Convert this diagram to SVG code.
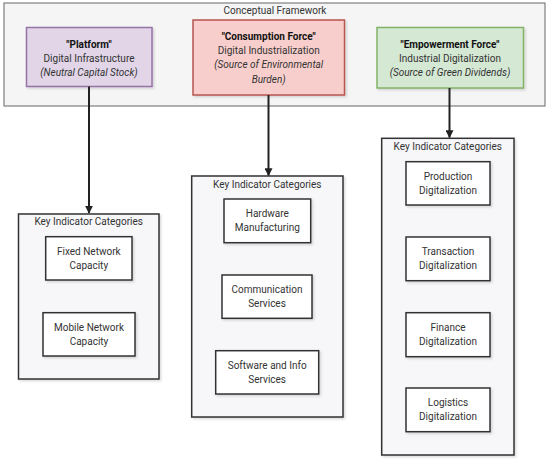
<svg xmlns="http://www.w3.org/2000/svg" width="550" height="462" viewBox="0 0 550 462">
<style>
text{font-family:Roboto,"Liberation Sans",sans-serif;font-size:10px;fill:#333;text-anchor:middle;dominant-baseline:central}
.b{font-weight:bold;fill:#111}
.i{font-style:italic}
.cont{fill:#f7f7fa;stroke:#333;stroke-width:1.5}
.item{fill:#fff;stroke:#333;stroke-width:1.5}
.conn{stroke:#222;stroke-width:2;fill:none;marker-end:url(#ah)}
</style>
<defs>
<marker id="ah" viewBox="0 0 10 10" refX="9" refY="5" markerWidth="4" markerHeight="4" orient="auto" markerUnits="strokeWidth">
<path d="M0,0 L10,5 L0,10 z" fill="#222"/>
</marker>
<filter id="sh" x="-10%" y="-10%" width="130%" height="130%">
<feDropShadow dx="1.5" dy="1.5" stdDeviation="1" flood-color="#000" flood-opacity="0.15"/>
</filter>
</defs>
<g id="frame">
<rect x="4" y="3" width="541" height="103" fill="#f5f5f5" stroke="#666" stroke-width="1"/>
<text x="275" y="10.5">Conceptual Framework</text>
</g>
<g id="platform">
<rect x="26.5" y="27.5" width="125.5" height="59" fill="#e1d5e7" stroke="#9673a6" stroke-width="1.5" filter="url(#sh)"/>
<text x="89" y="44.5" class="b">"Platform"</text>
<text x="89" y="58">Digital Infrastructure</text>
<text x="89" y="72" class="i">(Neutral Capital Stock)</text>
</g>
<g id="consumption">
<rect x="193" y="20" width="151.5" height="75" fill="#f8cecc" stroke="#b85450" stroke-width="1.5" filter="url(#sh)"/>
<text x="268.7" y="36" class="b">"Consumption Force"</text>
<text x="268.7" y="50">Digital Industrialization</text>
<text x="268.7" y="64.5" class="i">(Source of Environmental</text>
<text x="268.7" y="79" class="i">Burden)</text>
</g>
<g id="empowerment">
<rect x="377" y="27.5" width="146.5" height="60.5" fill="#d5e8d4" stroke="#82b366" stroke-width="1.5" filter="url(#sh)"/>
<text x="450" y="44" class="b">"Empowerment Force"</text>
<text x="450" y="58">Industrial Digitalization</text>
<text x="450" y="72" class="i">(Source of Green Dividends)</text>
</g>
<g id="connectors">
<path class="conn" d="M89,86.5 V213"/>
<path class="conn" d="M268.5,95 V175.5"/>
<path class="conn" d="M449.5,88 V137.5"/>
</g>
<g id="left-categories">
<rect class="cont" x="18.5" y="214" width="140.5" height="165" filter="url(#sh)"/>
<text x="88.7" y="221.5">Key Indicator Categories</text>
</g>
<g id="fixed-network">
<rect class="item" x="45.7" y="236.7" width="86.3" height="43.3" filter="url(#sh)"/>
<text x="88.8" y="251.5">Fixed Network</text>
<text x="88.8" y="265.5">Capacity</text>
</g>
<g id="mobile-network">
<rect class="item" x="43" y="312.7" width="92" height="43.3" filter="url(#sh)"/>
<text x="89" y="327.5">Mobile Network</text>
<text x="89" y="341.5">Capacity</text>
</g>
<g id="middle-categories">
<rect class="cont" x="191.7" y="176" width="151.3" height="241" filter="url(#sh)"/>
<text x="267.3" y="184">Key Indicator Categories</text>
</g>
<g id="hardware">
<rect class="item" x="224" y="199" width="86.7" height="43.7" filter="url(#sh)"/>
<text x="267.3" y="213.5">Hardware</text>
<text x="267.3" y="227.5">Manufacturing</text>
</g>
<g id="communication">
<rect class="item" x="222" y="275" width="90" height="43.3" filter="url(#sh)"/>
<text x="267" y="289.5">Communication</text>
<text x="267" y="303.5">Services</text>
</g>
<g id="software">
<rect class="item" x="215.7" y="350.7" width="103" height="43.3" filter="url(#sh)"/>
<text x="267.2" y="365">Software and Info</text>
<text x="267.2" y="379">Services</text>
</g>
<g id="right-categories">
<rect class="cont" x="381.7" y="138.3" width="132.3" height="316.7" filter="url(#sh)"/>
<text x="447.8" y="146">Key Indicator Categories</text>
</g>
<g id="production">
<rect class="item" x="406" y="161.7" width="84" height="43.3" filter="url(#sh)"/>
<text x="448" y="176">Production</text>
<text x="448" y="190">Digitalization</text>
</g>
<g id="transaction">
<rect class="item" x="406" y="237" width="84" height="43.7" filter="url(#sh)"/>
<text x="448" y="251.5">Transaction</text>
<text x="448" y="265.5">Digitalization</text>
</g>
<g id="finance">
<rect class="item" x="406" y="312.7" width="84" height="44" filter="url(#sh)"/>
<text x="448" y="327.5">Finance</text>
<text x="448" y="341.5">Digitalization</text>
</g>
<g id="logistics">
<rect class="item" x="406" y="388" width="84" height="43.7" filter="url(#sh)"/>
<text x="448" y="402.5">Logistics</text>
<text x="448" y="416.5">Digitalization</text>
</g>
</svg>
